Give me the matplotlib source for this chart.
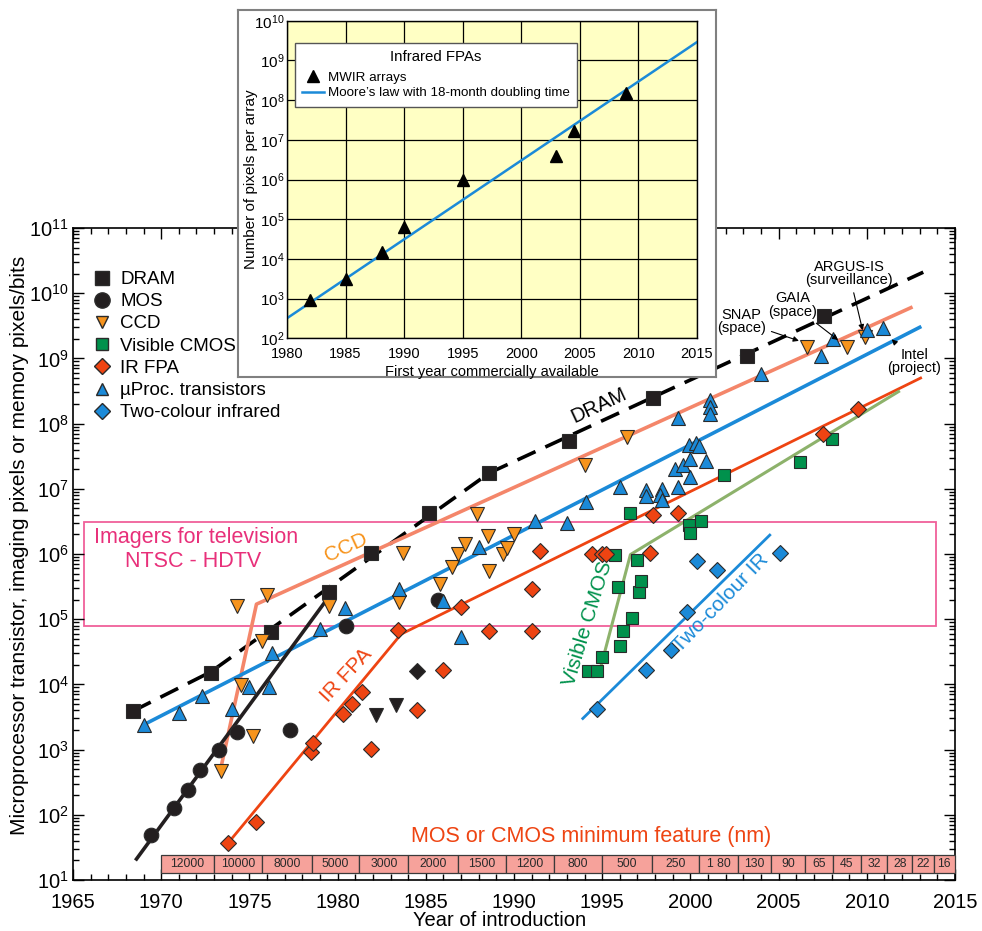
import matplotlib
matplotlib.use('Agg')
import matplotlib.pyplot as plt
from matplotlib.lines import Line2D
from matplotlib.patches import Rectangle
from matplotlib.ticker import LogLocator, MultipleLocator, NullFormatter, NullLocator

plt.rcParams['font.family'] = ['Liberation Sans', 'DejaVu Sans']
plt.rcParams['mathtext.default'] = 'regular'

# ---- main chart data ----
dram_year = [1968.4, 1972.8, 1976.2, 1979.5, 1981.9, 1985.2, 1988.6, 1993.1, 1997.9, 2003.2, 2007.6]
dram_val = [3.9e3, 1.5e4, 6.3e4, 2.6e5, 1.05e6, 4.3e6, 1.75e7, 5.5e7, 2.45e8, 1.1e9, 4.4e9]
dram_fit_year = [1968.4, 1972.8, 1988.6, 2013.2]
dram_fit_val = [3.9e3, 1.55e4, 1.75e7, 2.1e10]

mos_year = [1969.4, 1970.7, 1971.5, 1972.2, 1973.3, 1974.3, 1977.3, 1980.5, 1985.7]
mos_val = [49, 126, 240, 490, 1000, 1.85e3, 2.0e3, 7.9e4, 1.95e5]
mos_fit_year = [1968.6, 1979.6]
mos_fit_val = [21, 2.4e5]

ccd_year = [1973.4, 1974.3, 1974.5, 1975.2, 1975.7, 1976.0, 1979.5, 1983.5, 1983.7, 1985.8,
            1986.5, 1986.8, 1987.2, 1987.9, 1988.5, 1988.6, 1989.4, 1989.6, 1990.0, 1994.0,
            1996.4, 2006.6, 2008.9, 2009.9]
ccd_val = [4.7e2, 1.6e5, 9.8e3, 1.6e3, 4.7e4, 2.35e5, 1.6e5, 1.85e5, 1.05e6, 3.5e5,
           6.3e5, 1.0e6, 1.4e6, 4.1e6, 1.9e6, 5.5e5, 1.0e6, 1.25e6, 2.0e6, 2.3e7,
           6.3e7, 1.5e9, 1.5e9, 2.1e9]
ccd_fit_year = [1973.4, 1975.4, 2012.5]
ccd_fit_val = [5.5e2, 1.7e5, 6.0e9]

cmos_year = [1994.2, 1994.7, 1995.0, 1996.0, 1996.2, 1996.7, 1995.9, 1997.1, 1997.2, 1997.0,
             1995.7, 1996.6, 1999.9, 2000.0, 2000.6, 2001.9, 2006.2, 2008.0]
cmos_val = [1.6e4, 1.6e4, 2.6e4, 3.9e4, 6.6e4, 1.03e5, 3.1e5, 2.6e5, 3.9e5, 8.0e5,
            9.8e5, 4.2e6, 2.8e6, 2.1e6, 3.2e6, 1.6e7, 2.6e7, 5.8e7]
cmos_fit_year = [1994.8, 1996.6, 2011.8]
cmos_fit_val = [1.4e4, 9.8e5, 3.1e8]

irfpa_year = [1973.8, 1975.4, 1978.5, 1978.6, 1980.3, 1980.8, 1981.4, 1981.9, 1983.4, 1984.5,
              1986.0, 1987.0, 1988.6, 1991.0, 1991.0, 1991.5, 1994.4, 1995.0, 1995.2, 1997.7,
              1997.9, 1999.3, 2007.5, 2009.5]
irfpa_val = [37, 78, 930, 1.26e3, 3.5e3, 5.0e3, 7.6e3, 1.02e3, 6.8e4, 4.0e3,
             1.66e4, 1.55e5, 6.5e4, 2.9e5, 6.5e4, 1.1e6, 1.0e6, 1.0e6, 1.0e6, 1.05e6,
             4.0e6, 4.3e6, 7.0e7, 1.7e8]
irfpa_fit_year = [1973.9, 1983.6, 2013.05]
irfpa_fit_val = [40, 5.9e4, 5.0e8]

# unlabelled black markers
blk_dia_year = [1984.5]
blk_dia_val = [1.6e4]
blk_tri_year = [1982.2, 1983.3]
blk_tri_val = [3.4e3, 4.8e3]

uproc_year = [1969.0, 1971.0, 1972.3, 1974.0, 1975.0, 1976.1, 1976.3, 1979.0, 1980.4, 1983.5,
              1986.0, 1987.0, 1988.0, 1991.2, 1993.0, 1994.1, 1996.0, 1997.5, 1997.5, 1998.4,
              1998.3, 1998.4, 1999.3, 1999.1, 1999.6, 2000.0, 2000.0, 1999.9, 2000.3, 2000.5,
              2000.9, 1999.3, 2001.1, 2001.1, 2001.1, 2004.0, 2007.4, 2008.1, 2010.0, 2010.9]
uproc_val = [2.4e3, 3.7e3, 6.6e3, 4.2e3, 9.1e3, 9.2e3, 3.0e4, 7.0e4, 1.5e5, 2.9e5,
             1.9e5, 5.4e4, 1.3e6, 3.2e6, 3.0e6, 6.2e6, 1.08e7, 9.5e6, 7.8e6, 1.0e7,
             7.9e6, 6.7e6, 1.05e7, 2.0e7, 2.3e7, 2.9e7, 1.5e7, 4.7e7, 5.1e7, 4.6e7,
             2.7e7, 1.2e8, 2.3e8, 1.8e8, 1.4e8, 5.8e8, 1.1e9, 2.0e9, 2.7e9, 2.9e9]
uproc_fit_year = [1969.0, 2013.0]
uproc_fit_val = [2.4e3, 3.0e9]

twocol_year = [1994.7, 1997.5, 1998.9, 1999.8, 2000.4, 2001.5, 2005.1]
twocol_val = [4.2e3, 1.66e4, 3.4e4, 1.27e5, 7.9e5, 5.6e5, 1.05e6]
twocol_fit_year = [1993.9, 2004.5]
twocol_fit_val = [3.0e3, 1.95e6]

# television imager band
tv_years = [1965.65, 2013.95]
tv_vals = [7.9e4, 3.1e6]

# minimum feature size strip
feat_edges = [1970, 1973.0, 1975.73, 1978.53, 1981.23, 1984.01, 1986.84, 1989.53, 1992.27,
              1995.0, 1997.84, 2000.49, 2002.72, 2004.55, 2006.5, 2008.1, 2009.65, 2011.16,
              2012.58, 2013.79, 2015]
feat_labels = ['12000', '10000', '8000', '5000', '3000', '2000', '1500', '1200', '800', '500',
               '250', '1 80', '130', '90', '65', '45', '32', '28', '22', '16']

# ---- inset data ----
mwir_year = [1982.0, 1985.0, 1988.1, 1990.0, 1995.0, 2003.0, 2004.5, 2008.9]
mwir_val = [9.0e2, 3.2e3, 1.45e4, 6.5e4, 9.5e5, 3.9e6, 1.7e7, 1.5e8]
moore_year = [1980, 2015]
moore_val = [3.2e2, 2.9e9]

BLUE = '#1B8AD8'
ORANGE = '#F7941D'
RED = '#EE4412'
GREEN = '#00914C'
SALMON = '#F4866A'
SAGE = '#8DB26B'
PINK = '#F0609A'
DARK = '#231F20'
EDGE = '#2a2a2a'

fig = plt.figure(figsize=(9.82, 9.31), dpi=100)
ax = fig.add_axes([73/982, 1-880/931, 882/982, 652/931])
ax.set_yscale('log')
ax.set_xlim(1965, 2015)
ax.set_ylim(10, 1e11)

# tv box
ax.add_patch(Rectangle((tv_years[0], tv_vals[0]), tv_years[1]-tv_years[0], tv_vals[1]-tv_vals[0],
                       fill=False, ec=PINK, lw=1.3, zorder=1))

# trend lines
ax.plot(dram_fit_year, dram_fit_val, color='k', lw=2.6, ls=(0, (5.5, 3)), zorder=2)
ax.plot(ccd_fit_year, ccd_fit_val, color=SALMON, lw=2.6, zorder=2)
ax.plot(uproc_fit_year, uproc_fit_val, color=BLUE, lw=2.6, zorder=2)
ax.plot(irfpa_fit_year, irfpa_fit_val, color=RED, lw=2.0, zorder=2)
ax.plot(cmos_fit_year, cmos_fit_val, color=SAGE, lw=2.2, zorder=2)
ax.plot(twocol_fit_year, twocol_fit_val, color=BLUE, lw=2.0, zorder=2)
ax.plot(mos_fit_year, mos_fit_val, color=DARK, lw=2.6, zorder=2)

# markers
mk = dict(ls='none', mec=EDGE, mew=0.8, zorder=3)
ax.plot(dram_year, dram_val, marker='s', ms=9.5, color=DARK, **mk)
ax.plot(mos_year, mos_val, marker='o', ms=10.5, color=DARK, **mk)
ax.plot(ccd_year, ccd_val, marker='v', ms=9.5, color=ORANGE, **mk)
ax.plot(cmos_year, cmos_val, marker='s', ms=8, color=GREEN, **mk)
ax.plot(irfpa_year, irfpa_val, marker='D', ms=8, color=RED, **mk)
ax.plot(blk_dia_year, blk_dia_val, marker='D', ms=8, color=DARK, **mk)
ax.plot(blk_tri_year, blk_tri_val, marker='v', ms=9.5, color=DARK, **mk)
ax.plot(uproc_year, uproc_val, marker='^', ms=9.5, color=BLUE, **mk)
ax.plot(twocol_year, twocol_val, marker='D', ms=8, color=BLUE, **mk)

# feature size strip along the bottom
xt = ax.get_xaxis_transform()
for i, lab in enumerate(feat_labels):
    x0, x1 = feat_edges[i], feat_edges[i+1]
    ax.add_patch(Rectangle((x0, 0.0115), x1-x0, 0.027, transform=xt, fc='#F6A29B',
                           ec='#3a3a3a', lw=0.9, zorder=4, clip_on=False))
    ax.text((x0+x1)/2, 0.025, lab, transform=xt, ha='center', va='center',
            fontsize=8.8, color='#2a2a2a', zorder=5)
ax.text(1994.4, 46, 'MOS or CMOS minimum feature (nm)', color=RED, fontsize=15.5,
        ha='center', va='center')

# curve labels
ax.text(1972.0, 1.8e6, 'Imagers for television', color='#E8307A', fontsize=15.5, ha='center', va='center')
ax.text(1971.8, 7.6e5, 'NTSC - HDTV', color='#E8307A', fontsize=15.5, ha='center', va='center')
ax.text(1980.5, 1.25e6, 'CCD', color=ORANGE, fontsize=15, rotation=25, ha='center', va='center')
ax.text(1994.8, 1.9e8, 'DRAM', color='k', fontsize=14.5, rotation=25, ha='center', va='center')
ax.text(1980.5, 1.4e4, 'IR FPA', color=RED, fontsize=15, rotation=47, ha='center', va='center')
ax.text(1994.2, 8.5e4, 'Visible CMOS', color=GREEN, fontsize=15, rotation=73, ha='center', va='center')
ax.text(2001.7, 1.8e5, 'Two-colour IR', color=BLUE, fontsize=15, rotation=46, ha='center', va='center')

# annotations for single devices
ap = dict(arrowstyle='-|>', color='k', lw=0.8, mutation_scale=8, shrinkA=2, shrinkB=2)
ax.annotate('SNAP\n(space)', xy=(2006.3, 1.8e9), xytext=(2002.9, 3.7e9), fontsize=10.5,
            ha='center', va='center', linespacing=0.95, arrowprops=ap)
ax.annotate('GAIA\n(space)', xy=(2008.5, 1.8e9), xytext=(2005.8, 6.6e9), fontsize=10.5,
            ha='center', va='center', linespacing=0.95, arrowprops=ap)
ax.annotate('ARGUS-IS\n(surveillance)', xy=(2009.8, 2.45e9), xytext=(2009.0, 2.0e10), fontsize=10.5,
            ha='center', va='center', linespacing=0.95, arrowprops=ap)
ax.annotate('Intel\n(project)', xy=(2011.3, 2.1e9), xytext=(2012.7, 8.9e8), fontsize=10.5,
            ha='center', va='center', linespacing=0.95, arrowprops=ap)

# axes styling
ax.set_xticks(range(1965, 2016, 5))
ax.xaxis.set_minor_locator(MultipleLocator(1))
ax.yaxis.set_major_locator(LogLocator(base=10, numticks=20))
ax.yaxis.set_minor_locator(LogLocator(base=10, subs=range(2, 10), numticks=200))
ax.yaxis.set_minor_formatter(NullFormatter())
ax.tick_params(which='both', direction='in', top=True, right=True, width=1)
ax.tick_params(which='major', length=8)
ax.tick_params(which='minor', length=4.5)
ax.tick_params(axis='x', labelsize=14.5, pad=9)
ax.tick_params(axis='y', labelsize=14.5, pad=3)
for s in ax.spines.values():
    s.set_linewidth(1.2)
fig.text(20/982, 1-545/931, 'Microprocessor transistor, imaging pixels or memory pixels/bits',
         rotation=90, ha='center', va='center', fontsize=15)
fig.text(500/982, 1-920/931, 'Year of introduction', ha='center', va='center', fontsize=14.5)

# main legend
handles = [
    Line2D([], [], marker='s', ls='none', color=DARK, mec=EDGE, ms=10),
    Line2D([], [], marker='o', ls='none', color=DARK, mec=EDGE, ms=11),
    Line2D([], [], marker='v', ls='none', color=ORANGE, mec=EDGE, ms=9),
    Line2D([], [], marker='s', ls='none', color=GREEN, mec=EDGE, ms=8.5),
    Line2D([], [], marker='D', ls='none', color=RED, mec=EDGE, ms=8.5),
    Line2D([], [], marker='^', ls='none', color=BLUE, mec=EDGE, ms=9),
    Line2D([], [], marker='D', ls='none', color=BLUE, mec=EDGE, ms=8.5),
]
labels = ['DRAM', 'MOS', 'CCD', 'Visible CMOS', 'IR FPA', 'µProc. transistors', 'Two-colour infrared']
ax.legend(handles, labels, loc='upper left', bbox_to_anchor=(93/982, 1-271/931),
          bbox_transform=fig.transFigure, frameon=False, fontsize=13.5, borderpad=0,
          handlelength=1.0, handletextpad=0.45, labelspacing=0.27, borderaxespad=0)

# ---- inset ----
box = fig.add_axes([238/982, 1-377/931, 478/982, 367/931])
box.set_xticks([])
box.set_yticks([])
for s in box.spines.values():
    s.set_color('#808080')
    s.set_linewidth(1.5)

ins = fig.add_axes([287/982, 1-338.3/931, 410/982, 317.6/931])
ins.set_facecolor('#FFFFC4')
ins.set_yscale('log')
ins.set_xlim(1980, 2015)
ins.set_ylim(1e2, 1e10)
ins.set_xticks(range(1980, 2016, 5))
ins.yaxis.set_major_locator(LogLocator(base=10, numticks=20))
ins.yaxis.set_minor_locator(NullLocator())
ins.grid(True, color='k', lw=0.9)
ins.set_axisbelow(True)
ins.tick_params(length=0)
ins.tick_params(axis='x', labelsize=10.5, pad=6)
ins.tick_params(axis='y', labelsize=11, pad=2)
for s in ins.spines.values():
    s.set_linewidth(1.0)
ins.plot(moore_year, moore_val, color=BLUE, lw=1.8, label='Moore’s law with 18-month doubling time')
ins.plot(mwir_year, mwir_val, marker='^', ls='none', color='k', ms=8, label='MWIR arrays')
ins.set_xlabel('First year commercially available', fontsize=10.5)
ins.set_ylabel('Number of pixels per array', fontsize=11)
ins.xaxis.set_label_coords(0.5, -0.085)
ins.yaxis.set_label_coords(-0.07, 0.5)
h, l = ins.get_legend_handles_labels()
leg = ins.legend(h[::-1], l[::-1], title='Infrared FPAs', loc='upper left',
                 bbox_to_anchor=(0.0195, 0.93), fontsize=9.6, title_fontsize=10.8,
                 fancybox=False, edgecolor='#555555', framealpha=1, handlelength=1.6,
                 handletextpad=0.3, borderpad=0.55, labelspacing=0.25, borderaxespad=0)
leg.get_frame().set_linewidth(1.0)
leg._legend_box.sep = 5

fig.savefig('out.png', dpi=100)
